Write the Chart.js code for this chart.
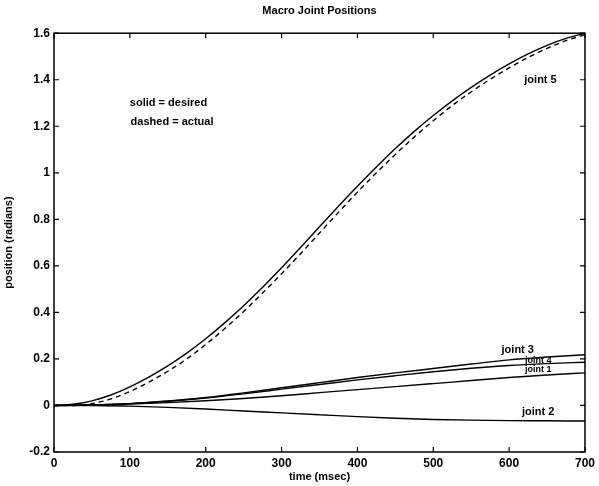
<!DOCTYPE html>
<html>
<head>
<meta charset="utf-8">
<script src="https://cdn.jsdelivr.net/npm/chart.js@4"></script>
<style>
  html, body { margin: 0; padding: 0; background: #fff; }
  #wrap { width: 599px; height: 486px; }
</style>
</head>
<body>
<div id="wrap"><canvas id="jointChart" width="599" height="486"></canvas></div>
<script>
// 時間軸（msec）
const timeFine = [0, 25, 50, 75, 100, 125, 150, 175, 200, 225, 250, 275, 300, 325, 350,
  375, 400, 425, 450, 475, 500, 525, 550, 575, 600, 625, 650, 675, 700];
const timeCoarse = [0, 50, 100, 150, 200, 250, 300, 350, 400, 450, 500, 550, 600, 650, 700];

// joint 5（目標 / 実測）
const joint5Desired = [0, 0.005, 0.02, 0.045, 0.08, 0.122, 0.17, 0.225, 0.287, 0.355, 0.429, 0.508,
  0.592, 0.679, 0.768, 0.856, 0.942, 1.025, 1.104, 1.178, 1.246, 1.309, 1.367, 1.42, 1.468, 1.511,
  1.548, 1.578, 1.6];
const joint5Actual = [0, 0, 0.008, 0.028, 0.06, 0.1, 0.147, 0.2, 0.262, 0.33, 0.404, 0.483,
  0.566, 0.652, 0.741, 0.83, 0.917, 1.0, 1.079, 1.154, 1.224, 1.289, 1.348, 1.402, 1.451, 1.496,
  1.535, 1.568, 1.593];

// 小さい関節
const joint3 = [0, 0.002, 0.008, 0.019, 0.034, 0.054, 0.076, 0.098, 0.12, 0.14, 0.159, 0.178, 0.196, 0.208, 0.218];
const joint4 = [0, 0.002, 0.008, 0.018, 0.032, 0.05, 0.07, 0.09, 0.11, 0.128, 0.145, 0.16, 0.172, 0.18, 0.186];
const joint1 = [0, 0.002, 0.006, 0.012, 0.02, 0.03, 0.042, 0.055, 0.068, 0.081, 0.094, 0.107, 0.12, 0.131, 0.14];
const joint2 = [0, 0, -0.003, -0.008, -0.015, -0.024, -0.032, -0.04, -0.048, -0.055, -0.06, -0.063, -0.065, -0.066, -0.067];

// 目盛り
const xTicks = [0, 100, 200, 300, 400, 500, 600, 700];
const yTicks = [-0.2, 0, 0.2, 0.4, 0.6, 0.8, 1, 1.2, 1.4, 1.6];
const yTickLabels = ['-0.2', '0', '0.2', '0.4', '0.6', '0.8', '1', '1.2', '1.4', '1.6'];

// 図中テキスト（データ座標）
const notes = [
  { text: 'solid = desired', t: 100, v: 1.30, size: 11 },
  { text: 'dashed = actual', t: 101, v: 1.218, size: 11 },
  { text: 'joint 5', t: 620, v: 1.40, size: 11 },
  { text: 'joint 3', t: 590, v: 0.238, size: 11 },
  { text: 'joint 4', t: 621, v: 0.192, size: 9 },
  { text: 'joint 1', t: 621, v: 0.153, size: 9 },
  { text: 'joint 2', t: 617, v: -0.028, size: 11 }
];

const FONT = '"Liberation Sans", Arial, sans-serif';

function toPoints(ts, vs) {
  return ts.map((t, i) => ({ x: t, y: vs[i] }));
}

function line(label, ts, vs, dashed) {
  return {
    label: label,
    data: toPoints(ts, vs),
    borderColor: '#000',
    borderWidth: 1.4,
    borderDash: dashed ? [5, 4] : [],
    pointRadius: 0,
    fill: false,
    cubicInterpolationMode: 'monotone'
  };
}

// 枠線と内向きの目盛り
const framePlugin = {
  id: 'frame',
  afterDatasetsDraw(chart) {
    const { ctx, chartArea: a, scales } = chart;
    ctx.save();
    ctx.strokeStyle = '#000';
    ctx.lineWidth = 1.5;
    ctx.strokeRect(a.left, a.top, a.right - a.left, a.bottom - a.top);
    ctx.lineWidth = 1.2;
    const len = 5;
    xTicks.forEach(t => {
      const px = scales.x.getPixelForValue(t);
      ctx.beginPath();
      ctx.moveTo(px, a.bottom); ctx.lineTo(px, a.bottom - len);
      ctx.moveTo(px, a.top); ctx.lineTo(px, a.top + len);
      ctx.stroke();
    });
    yTicks.forEach(v => {
      const py = scales.y.getPixelForValue(v);
      ctx.beginPath();
      ctx.moveTo(a.left, py); ctx.lineTo(a.left + len, py);
      ctx.moveTo(a.right, py); ctx.lineTo(a.right - len, py);
      ctx.stroke();
    });
    // 注記
    ctx.fillStyle = '#000';
    ctx.textBaseline = 'middle';
    ctx.textAlign = 'left';
    notes.forEach(n => {
      ctx.font = 'bold ' + n.size + 'px ' + FONT;
      ctx.fillText(n.text, scales.x.getPixelForValue(n.t), scales.y.getPixelForValue(n.v));
    });
    ctx.restore();
  }
};

const ctx = document.getElementById('jointChart').getContext('2d');
new Chart(ctx, {
  type: 'line',
  data: {
    datasets: [
      line('joint 5 desired', timeFine, joint5Desired, false),
      line('joint 5 actual', timeFine, joint5Actual, true),
      line('joint 3', timeCoarse, joint3, false),
      line('joint 4', timeCoarse, joint4, false),
      line('joint 1', timeCoarse, joint1, false),
      line('joint 2', timeCoarse, joint2, false)
    ]
  },
  options: {
    responsive: false,
    animation: false,
    layout: { padding: { left: 0, right: 14, top: 0, bottom: 0 } },
    plugins: {
      legend: { display: false },
      tooltip: { enabled: false },
      title: {
        display: true,
        text: 'Macro Joint Positions',
        fullSize: false,
        color: '#000',
        font: { family: FONT, size: 11, weight: 'bold' },
        padding: { top: 4, bottom: 16 }
      }
    },
    scales: {
      x: {
        type: 'linear',
        min: 0,
        max: 700,
        afterBuildTicks: s => { s.ticks = xTicks.map(v => ({ value: v })); },
        afterFit: s => { s.height = 34; },
        grid: { display: false, drawTicks: false },
        border: { display: false },
        ticks: {
          color: '#000',
          padding: 4,
          maxRotation: 0,
          font: { family: FONT, size: 12, weight: 'bold' },
          callback: v => String(v)
        },
        title: {
          display: true,
          text: 'time (msec)',
          color: '#000',
          font: { family: FONT, size: 11, weight: 'bold' },
          padding: { top: 0, bottom: 2 }
        }
      },
      y: {
        type: 'linear',
        min: -0.2,
        max: 1.6,
        afterBuildTicks: s => { s.ticks = yTicks.map(v => ({ value: v })); },
        afterFit: s => { s.width = 54; },
        grid: { display: false, drawTicks: false },
        border: { display: false },
        ticks: {
          color: '#000',
          padding: 4,
          font: { family: FONT, size: 12, weight: 'bold' },
          callback: (v, i) => yTickLabels[i]
        },
        title: {
          display: true,
          text: 'position (radians)',
          color: '#000',
          font: { family: FONT, size: 11, weight: 'bold' },
          padding: { top: 2, bottom: 0 }
        }
      }
    }
  },
  plugins: [framePlugin]
});
</script>
</body>
</html>
